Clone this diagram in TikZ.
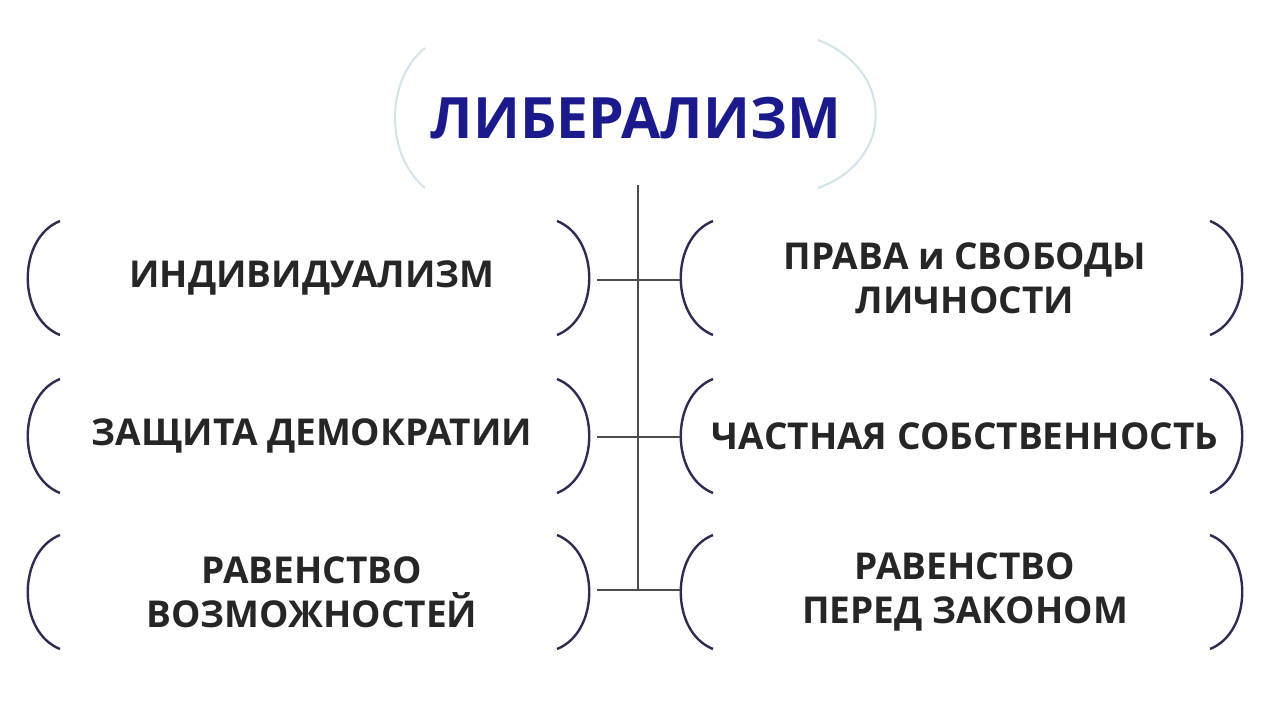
\documentclass[tikz,border=0pt]{standalone}
\usepackage{fontspec}
\setmainfont{Open Sans}
\definecolor{ink}{HTML}{2E2C52}
\definecolor{pale}{HTML}{D3E3EA}
\definecolor{title}{HTML}{1A1A8C}
\begin{document}
\begin{tikzpicture}[x=1pt,y=-1pt,
  br/.style={draw=ink,line width=2.4pt},
  lbl/.style={font=\fontsize{37}{44}\selectfont\bfseries,text=black!85,align=center},
  ln/.style={draw=black!70,line width=1.2pt}]
\useasboundingbox (0,0) rectangle (1280,720);
\fill[white] (0,0) rectangle (1280,720);
% title brackets
\draw[draw=pale,line width=2pt] (425,48) .. controls (385,80) and (385,155) .. (425,188);
\draw[draw=pale,line width=2pt] (818,40) .. controls (895,70) and (895,160) .. (818,188);
\node[font=\fontsize{57}{60}\selectfont\bfseries,text=title] (t) at (636,118) {ЛИБЕРАЛИЗМ};
% boxes
\foreach \cx/\cy/\nm in {312/278/a,312/436/b,312/592/c,965/278/d,965/436/e,965/592/f}{
  \draw[br] (\cx-252,\cy-57) .. controls (\cx-295,\cy-40) and (\cx-295,\cy+40) .. (\cx-252,\cy+57);
  \draw[br] (\cx+245,\cy-57) .. controls (\cx+288,\cy-40) and (\cx+288,\cy+40) .. (\cx+245,\cy+57);
  \coordinate (\nm) at (\cx,\cy);
}
\node[lbl] at (a) {ИНДИВИДУАЛИЗМ};
\node[lbl] at (b) {ЗАЩИТА ДЕМОКРАТИИ};
\node[lbl] at (c) {РАВЕНСТВО\\ВОЗМОЖНОСТЕЙ};
\node[lbl] at (d) {ПРАВА и СВОБОДЫ\\ЛИЧНОСТИ};
\node[lbl] at (e) {ЧАСТНАЯ СОБСТВЕННОСТЬ};
\node[lbl] at (f) {РАВЕНСТВО\\ПЕРЕД ЗАКОНОМ};
% connectors
\coordinate (top) at (638,185);
\coordinate (bot) at (638,590);
\draw[ln] (top) -- (bot);
\foreach \y in {280,437,590}{\draw[ln] (597,\y) -- (680,\y);}
\end{tikzpicture}
\end{document}
